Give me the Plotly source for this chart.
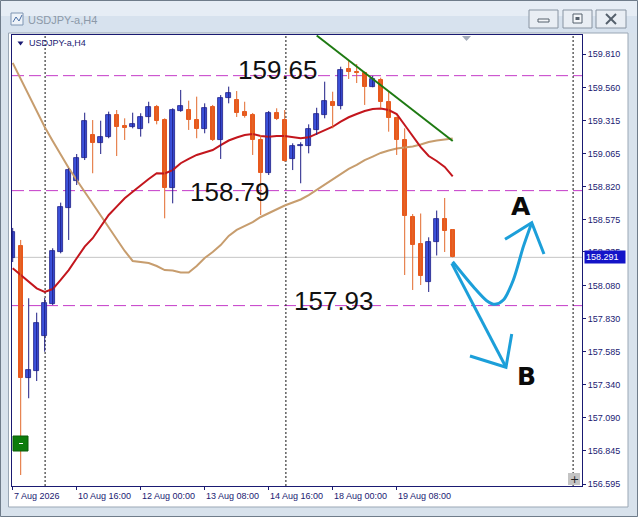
import plotly.graph_objects as go

# ---------------- data ----------------
open_ = [158.284, 158.376, 157.386, 157.443, 157.705, 157.942, 158.333, 158.662, 158.862, 159.036,
         159.206, 159.149, 159.189, 159.356, 159.273, 159.264, 159.249, 159.339, 159.413, 159.318,
         158.808, 159.388, 159.393, 159.318, 159.249, 159.413, 159.169, 159.481, 159.468, 159.380,
         159.356, 159.169, 158.920, 159.369, 159.318, 159.024, 159.124, 159.126, 159.244, 159.356,
         159.455, 159.425, 159.698, 159.680, 159.668, 159.568, 159.618, 159.455, 159.331, 159.169,
         158.593, 158.389, 158.107, 158.404, 158.578, 158.496]
high = [158.511, 158.421, 157.985, 157.877, 157.987, 158.359, 158.700, 158.957, 159.064, 159.373,
        159.318, 159.313, 159.381, 159.393, 159.331, 159.373, 159.369, 159.455, 159.431, 159.331,
        159.406, 159.543, 159.463, 159.493, 159.443, 159.431, 159.505, 159.568, 159.535, 159.455,
        159.371, 159.206, 159.386, 159.406, 159.393, 159.144, 159.152, 159.286, 159.410, 159.605,
        159.530, 159.717, 159.760, 159.737, 159.680, 159.648, 159.635, 159.530, 159.343, 159.256,
        158.615, 158.619, 158.441, 158.641, 158.735, 158.503]
low = [158.256, 156.663, 157.237, 157.366, 157.585, 157.934, 158.321, 158.421, 158.832, 159.019,
       158.920, 159.064, 159.182, 159.049, 159.169, 159.256, 159.194, 159.294, 159.286, 158.583,
       158.695, 159.380, 159.244, 159.182, 159.219, 159.161, 159.027, 159.443, 159.341, 159.336,
       159.057, 158.608, 158.907, 159.318, 159.006, 158.944, 158.845, 159.069, 159.206, 159.331,
       159.256, 159.398, 159.625, 159.595, 159.431, 159.563, 159.406, 159.231, 159.057, 158.159,
       158.047, 158.084, 158.032, 158.305, 158.331, 158.291]
close = [158.483, 157.386, 157.448, 157.800, 157.947, 158.341, 158.670, 158.944, 159.032, 159.313,
         159.149, 159.189, 159.356, 159.268, 159.261, 159.288, 159.339, 159.413, 159.313, 158.808,
         159.393, 159.423, 159.318, 159.249, 159.406, 159.169, 159.481, 159.518, 159.371, 159.348,
         159.169, 158.920, 159.371, 159.324, 159.015, 159.124, 159.135, 159.251, 159.361, 159.463,
         159.425, 159.692, 159.675, 159.668, 159.568, 159.623, 159.455, 159.331, 159.169, 158.597,
         158.387, 158.154, 158.404, 158.576, 158.490, 158.291]

ma_red = [158.209, 158.159, 158.109, 158.059, 158.032, 158.054, 158.122, 158.196, 158.284, 158.371,
          158.434, 158.520, 158.608, 158.670, 158.733, 158.782, 158.832, 158.877, 158.920, 158.918,
          158.944, 158.995, 159.027, 159.057, 159.075, 159.094, 159.131, 159.165, 159.187, 159.206,
          159.214, 159.199, 159.193, 159.199, 159.199, 159.189, 159.182, 159.189, 159.214, 159.244,
          159.268, 159.306, 159.339, 159.363, 159.386, 159.401, 159.404, 159.393, 159.363, 159.281,
          159.195, 159.116, 159.049, 159.012, 158.967, 158.896]
ma_tan = [159.745, 159.625, 159.498, 159.378, 159.266, 159.161, 159.057, 158.959, 158.870, 158.780,
          158.690, 158.600, 158.511, 158.421, 158.339, 158.264, 158.256, 158.249, 158.226, 158.196,
          158.193, 158.178, 158.178, 158.226, 158.286, 158.331, 158.383, 158.451, 158.496, 158.526,
          158.555, 158.593, 158.623, 158.653, 158.679, 158.701, 158.724, 158.757, 158.795, 158.832,
          158.870, 158.914, 158.952, 158.982, 159.019, 159.045, 159.072, 159.090, 159.105, 159.113,
          159.120, 159.135, 159.154, 159.165, 159.173, 159.180]

x_labels = ["7 Aug 2026", "10 Aug 16:00", "12 Aug 00:00", "13 Aug 08:00",
            "14 Aug 16:00", "18 Aug 00:00", "19 Aug 08:00"]
x_label_bars = [0, 8, 16, 24, 32, 40, 48]
y_ticks = [159.810, 159.560, 159.315, 159.065, 158.820, 158.575, 158.335,
           158.080, 157.830, 157.585, 157.340, 157.090, 156.845, 156.595]
levels = [159.65, 158.79, 157.93]
last_price = 158.291
trend_x = [38, 55]
trend_y = [159.950, 159.161]
separators = [4.05, 34.15, 70.05]

arrow_a_x = [55.0, 57.58, 59.25, 60.29, 61.33, 62.58, 63.83, 64.88]
arrow_a_y = [158.258, 158.071, 157.967, 157.940, 157.972, 158.122, 158.371, 158.550]
arrow_a_head_x = [61.54, 64.88, 66.41]
arrow_a_head_y = [158.426, 158.550, 158.316]
arrow_b_x = [54.88, 61.66]
arrow_b_y = [158.246, 157.469]
arrow_b_head_x = [57.16, 61.66, 62.38]
arrow_b_head_y = [157.553, 157.469, 157.718]

# ---------------- layout helpers ----------------
W, H = 638, 517
PL, PR, PT, PB = 12, 582, 35, 486


def fx(px):
    return (px - PL) / (PR - PL)


def fy(py):
    return (PB - py) / (PB - PT)


NAVY = "#1A1A72"
BULL_FILL = "#3C52DC"
BULL_EDGE = "#1E1E86"
BEAR_FILL = "#E8581C"
BEAR_WICK = "#E2692C"

idx = list(range(len(open_)))
bull = [i for i in idx if close[i] >= open_[i]]
bear = [i for i in idx if close[i] < open_[i]]


def wicks(ids):
    xs, ys = [], []
    for i in ids:
        xs += [i, i, None]
        ys += [low[i], high[i], None]
    return xs, ys


fig = go.Figure()

# moving averages (under candles)
fig.add_trace(go.Scatter(x=idx, y=ma_tan, mode="lines", line=dict(color="#C79D6E", width=2), hoverinfo="skip"))
fig.add_trace(go.Scatter(x=idx, y=ma_red, mode="lines", line=dict(color="#C3161D", width=2), hoverinfo="skip"))

wx, wy = wicks(bear)
fig.add_trace(go.Scatter(x=wx, y=wy, mode="lines", line=dict(color=BEAR_WICK, width=1), hoverinfo="skip"))
wx, wy = wicks(bull)
fig.add_trace(go.Scatter(x=wx, y=wy, mode="lines", line=dict(color=BULL_EDGE, width=1), hoverinfo="skip"))

fig.add_trace(go.Bar(x=bear, base=[min(open_[i], close[i]) for i in bear],
                     y=[max(abs(close[i] - open_[i]), 0.004) for i in bear],
                     width=0.55, marker=dict(color=BEAR_FILL, line=dict(color=BEAR_FILL, width=1)),
                     hoverinfo="skip"))
fig.add_trace(go.Bar(x=bull, base=[min(open_[i], close[i]) for i in bull],
                     y=[max(abs(close[i] - open_[i]), 0.004) for i in bull],
                     width=0.6, marker=dict(color=BULL_FILL, line=dict(color=BULL_EDGE, width=0.8)),
                     hoverinfo="skip"))

# trend line
fig.add_trace(go.Scatter(x=trend_x, y=trend_y, mode="lines", line=dict(color="#1E7A12", width=2), hoverinfo="skip"))

# hand-drawn arrows
ARROW = "#1C9FD9"
fig.add_trace(go.Scatter(x=arrow_a_x, y=arrow_a_y, mode="lines",
                         line=dict(color=ARROW, width=3, shape="spline", smoothing=0.8), hoverinfo="skip"))
fig.add_trace(go.Scatter(x=arrow_a_head_x, y=arrow_a_head_y, mode="lines",
                         line=dict(color=ARROW, width=3), hoverinfo="skip"))
fig.add_trace(go.Scatter(x=arrow_b_x, y=arrow_b_y, mode="lines",
                         line=dict(color=ARROW, width=3), hoverinfo="skip"))
fig.add_trace(go.Scatter(x=arrow_b_head_x, y=arrow_b_head_y, mode="lines",
                         line=dict(color=ARROW, width=3), hoverinfo="skip"))

shapes = []
# window chrome
shapes.append(dict(type="rect", xref="paper", yref="paper", x0=fx(0), x1=fx(W), y0=fy(0), y1=fy(33),
                   fillcolor="#E6EDF5", line=dict(width=0), layer="below"))
shapes.append(dict(type="rect", xref="paper", yref="paper", x0=fx(0), x1=fx(W), y0=fy(16), y1=fy(33),
                   fillcolor="#D7E2EE", line=dict(width=0), layer="below"))
shapes.append(dict(type="rect", xref="paper", yref="paper", x0=fx(8.5), x1=fx(628), y0=fy(33), y1=fy(507),
                   fillcolor="white", line=dict(color="#9AA7B5", width=1), layer="below"))
shapes.append(dict(type="rect", xref="paper", yref="paper", x0=fx(0.5), x1=fx(637.5), y0=fy(0.5), y1=fy(516.5),
                   fillcolor="rgba(0,0,0,0)", line=dict(color="#6F7C8A", width=1), layer="above"))
# title-bar buttons
for bx0, bx1 in [(529, 558), (563, 592), (596, 626)]:
    shapes.append(dict(type="rect", xref="paper", yref="paper", x0=fx(bx0), x1=fx(bx1), y0=fy(10), y1=fy(28),
                       fillcolor="#E9EEF4", line=dict(color="#8894A2", width=1), layer="above"))
shapes.append(dict(type="rect", xref="paper", yref="paper", x0=fx(538), x1=fx(549), y0=fy(19), y1=fy(22),
                   fillcolor="#F4F6F9", line=dict(color="#55606C", width=1), layer="above"))
shapes.append(dict(type="rect", xref="paper", yref="paper", x0=fx(573), x1=fx(582), y0=fy(14), y1=fy(23),
                   fillcolor="#F4F6F9", line=dict(color="#55606C", width=1), layer="above"))
shapes.append(dict(type="rect", xref="paper", yref="paper", x0=fx(575.5), x1=fx(579.5), y0=fy(17), y1=fy(20),
                   fillcolor="#55606C", line=dict(width=0), layer="above"))
shapes.append(dict(type="line", xref="paper", yref="paper", x0=fx(606), x1=fx(616), y0=fy(14), y1=fy(24),
                   line=dict(color="#55606C", width=2), layer="above"))
shapes.append(dict(type="line", xref="paper", yref="paper", x0=fx(606), x1=fx(616), y0=fy(24), y1=fy(14),
                   line=dict(color="#55606C", width=2), layer="above"))
# window icon
shapes.append(dict(type="rect", xref="paper", yref="paper", x0=fx(11), x1=fx(23), y0=fy(13), y1=fy(25),
                   fillcolor="#EEF3F9", line=dict(color="#7F95B2", width=1), layer="above"))
shapes.append(dict(type="path", xref="paper", yref="paper",
                   path=f"M {fx(13)},{fy(22)} L {fx(16)},{fy(17)} L {fx(19)},{fy(21)} L {fx(22)},{fy(15)}",
                   line=dict(color="#4A6FA5", width=1), layer="above"))

# current price line
shapes.append(dict(type="line", xref="paper", yref="y", x0=0, x1=1, y0=last_price, y1=last_price,
                   line=dict(color="#C6C6C6", width=1), layer="below"))
# horizontal level lines
for lv in levels:
    shapes.append(dict(type="line", xref="paper", yref="y", x0=0, x1=1, y0=lv, y1=lv,
                       line=dict(color="#C43AC8", width=1, dash="12px,5px"), layer="below"))
# separators
for sx in separators:
    shapes.append(dict(type="line", xref="x", yref="paper", x0=sx, x1=sx, y0=0, y1=1,
                       line=dict(color="#111111", width=1, dash="2px,2px"), layer="below"))
# green marker box, plus box, shift triangle, legend triangle
shapes.append(dict(type="rect", xref="paper", yref="paper", x0=fx(13), x1=fx(28), y0=fy(436), y1=fy(451),
                   fillcolor="#0C7C0C", line=dict(color="#0A5A0A", width=1), layer="above"))
shapes.append(dict(type="line", xref="paper", yref="paper", x0=fx(19), x1=fx(23), y0=fy(443.5), y1=fy(443.5),
                   line=dict(color="white", width=1), layer="above"))
shapes.append(dict(type="rect", xref="paper", yref="paper", x0=fx(568), x1=fx(580), y0=fy(473), y1=fy(485),
                   fillcolor="#C4C4C4", line=dict(width=0), layer="above"))
shapes.append(dict(type="path", xref="paper", yref="paper",
                   path=f"M {fx(462)},{fy(36)} L {fx(471)},{fy(36)} L {fx(466.5)},{fy(41)} Z",
                   fillcolor="#A3ABBA", line=dict(width=0), layer="above"))
shapes.append(dict(type="path", xref="paper", yref="paper",
                   path=f"M {fx(17.5)},{fy(41.5)} L {fx(23.5)},{fy(41.5)} L {fx(20.5)},{fy(45.5)} Z",
                   fillcolor=NAVY, line=dict(width=0), layer="above"))

annotations = []
# window title
annotations.append(dict(text="USDJPY-a,H4", xref="paper", yref="paper", x=fx(26), y=fy(20),
                        xanchor="left", yanchor="middle", showarrow=False,
                        font=dict(family="Liberation Sans", size=11, color="#8C99A8")))
# chart legend
annotations.append(dict(text="USDJPY-a,H4", xref="paper", yref="paper", x=fx(27), y=fy(43.5),
                        xanchor="left", yanchor="middle", showarrow=False,
                        font=dict(family="Liberation Sans", size=9, color=NAVY)))
# x labels
for b, lab in zip(x_label_bars, x_labels):
    annotations.append(dict(text=lab, xref="x", yref="paper", x=b, y=fy(496),
                            xanchor="left", yanchor="middle", xshift=-1, showarrow=False,
                            font=dict(family="Liberation Sans", size=9, color=NAVY)))
# price label box
annotations.append(dict(text=f"{last_price:.3f}", xref="paper", yref="y", x=1, y=last_price,
                        xanchor="left", yanchor="middle", xshift=2, showarrow=False,
                        bgcolor="#1414C8", borderpad=1, width=38, align="left",
                        font=dict(family="Liberation Sans", size=9, color="white")))
# level texts
level_pos = [(278, 70), (230, 192), (334, 301)]
for lv, (px, py) in zip(levels, level_pos):
    annotations.append(dict(text=f"{lv:.2f}", xref="paper", yref="paper", x=fx(px), y=fy(py),
                            xanchor="center", yanchor="middle", showarrow=False,
                            font=dict(family="Liberation Sans", size=26, color="#111111")))
# A / B
for t, (px, py) in zip(["A", "B"], [(521, 206), (526, 376)]):
    annotations.append(dict(text=f"<b>{t}</b>", xref="paper", yref="paper", x=fx(px), y=fy(py),
                            xanchor="center", yanchor="middle", showarrow=False,
                            font=dict(family="DejaVu Sans", size=25, color="#0A0A0A")))
# plus glyph
annotations.append(dict(text="+", xref="paper", yref="paper", x=fx(574), y=fy(479),
                        xanchor="center", yanchor="middle", showarrow=False,
                        font=dict(family="DejaVu Sans", size=11, color="#222222")))

fig.update_layout(
    width=W, height=H,
    margin=dict(l=PL, r=W - PR, t=PT, b=H - PB, pad=0),
    paper_bgcolor="#D8E2EC", plot_bgcolor="white",
    showlegend=False, barmode="overlay", bargap=0,
    shapes=shapes, annotations=annotations,
    xaxis=dict(range=[(PL - 12.7) / 8, (PR - 12.7) / 8], showgrid=False, zeroline=False,
               showline=True, linecolor=NAVY, linewidth=1, mirror=True,
               tickmode="array", tickvals=x_label_bars, ticks="outside", ticklen=3,
               tickcolor=NAVY, showticklabels=False, fixedrange=True),
    yaxis=dict(range=[160.216 - 0.00748 * PB, 160.216 - 0.00748 * PT], side="right",
               showgrid=False, zeroline=False, showline=True, linecolor=NAVY, linewidth=1,
               mirror=True, tickmode="array", tickvals=y_ticks,
               ticktext=[f"{v:.3f}" for v in y_ticks], ticks="outside", ticklen=3,
               tickcolor=NAVY, tickfont=dict(family="Liberation Sans", size=9, color=NAVY),
               fixedrange=True),
)

fig.write_html("out.html", config={"displayModeBar": False},
               post_script="document.body.style.margin='0px';")
